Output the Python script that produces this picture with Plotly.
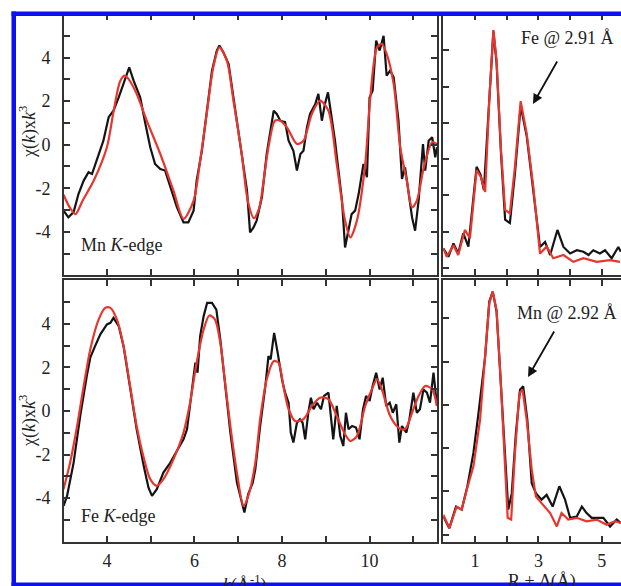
import plotly.graph_objects as go

# ---------------- data ----------------
# Mn K-edge EXAFS (top-left)
mn_k_data = [3.01,3.12,3.24,3.35,3.47,3.58,3.66,3.77,3.92,4.04,
             4.15,4.27,4.38,4.46,4.51,4.61,4.76,4.88,4.99,5.10,
             5.22,5.33,5.45,5.60,5.75,5.86,5.98,6.05,6.17,6.28,
             6.40,6.51,6.57,6.66,6.78,6.89,7.04,7.20,7.27,7.35,
             7.42,7.54,7.65,7.73,7.81,7.88,7.96,8.07,8.15,8.26,
             8.34,8.42,8.49,8.57,8.64,8.76,8.83,8.91,8.98,9.05,
             9.14,9.21,9.29,9.37,9.44,9.52,9.59,9.67,9.75,9.86,
             9.94,10.00,10.07,10.15,10.23,10.32,10.39,10.47,10.55,10.66,
             10.74,10.81,10.89,10.97,11.04,11.12,11.22,11.27,11.35,11.43,
             11.50,11.54]
mn_chi_data = [-3.03,-3.34,-3.10,-2.27,-1.65,-1.27,-1.35,-0.74,0.18,1.26,
               1.56,2.17,2.79,3.25,3.55,2.94,2.17,0.95,-0.12,-0.89,
               -1.12,-1.19,-1.96,-2.88,-3.57,-3.57,-3.03,-1.65,-0.28,1.41,
               3.40,4.32,4.55,4.24,3.70,2.17,0.03,-2.11,-4.03,-3.80,
               -3.49,-2.42,-0.43,0.64,1.56,1.41,1.10,1.03,0.18,-0.28,
               -1.19,-0.43,-0.28,0.80,1.41,1.87,2.33,1.10,1.87,2.40,
               1.26,0.18,-1.19,-2.57,-4.72,-3.80,-3.19,-3.03,-2.27,-0.89,
               -1.50,2.17,2.48,4.78,4.32,5.00,3.17,3.40,3.09,1.10,
               -1.58,-1.04,-2.11,-3.34,-3.95,-2.57,0.03,-1.19,0.18,0.34,
               -0.58,-0.12]
mn_k_fit = [3.01,3.15,3.28,3.45,3.70,4.00,4.15,4.30,4.40,4.50,
            4.68,4.91,5.22,5.52,5.75,5.98,6.13,6.28,6.43,6.57,
            6.74,6.89,7.08,7.22,7.36,7.48,7.58,7.69,7.84,7.96,
            8.11,8.34,8.49,8.68,8.87,9.06,9.25,9.44,9.56,9.71,
            9.90,10.01,10.17,10.28,10.39,10.55,10.70,10.85,10.97,11.08,
            11.24,11.43,11.54]
mn_chi_fit = [-2.30,-2.88,-3.19,-2.55,-1.65,-0.12,1.50,2.90,3.17,3.00,
              2.33,1.10,-0.43,-2.11,-3.41,-2.57,-0.74,1.41,3.55,4.47,
              3.86,2.02,-0.43,-2.60,-3.38,-2.90,-1.65,-0.12,1.10,1.10,
              0.80,0.03,0.18,1.41,2.02,1.56,-0.89,-3.49,-4.26,-3.49,
              -0.89,2.02,4.47,4.62,4.17,2.79,-0.12,-1.65,-2.88,-2.57,
              -1.04,0.11,0.03]

# Fe K-edge EXAFS (bottom-left)
fe_k_data = [3.01,3.09,3.24,3.39,3.54,3.62,3.73,3.85,4.00,4.08,
             4.15,4.27,4.38,4.53,4.68,4.84,4.95,5.03,5.14,5.29,
             5.45,5.60,5.75,5.83,5.94,6.02,6.07,6.13,6.21,6.29,
             6.40,6.50,6.59,6.70,6.82,6.97,7.08,7.14,7.23,7.33,
             7.39,7.50,7.62,7.69,7.74,7.82,7.90,8.00,8.07,8.15,
             8.20,8.26,8.34,8.41,8.47,8.53,8.60,8.66,8.72,8.80,
             8.89,8.96,9.06,9.17,9.25,9.33,9.40,9.46,9.52,9.60,
             9.69,9.77,9.85,9.92,10.00,10.07,10.15,10.23,10.30,10.38,
             10.46,10.53,10.61,10.68,10.74,10.84,10.91,11.00,11.08,11.15,
             11.23,11.31,11.38,11.46,11.54]
fe_chi_data = [-4.36,-3.90,-2.37,-0.23,1.61,2.45,2.98,3.52,3.98,4.05,
               4.28,3.90,2.98,1.15,-0.84,-2.52,-3.52,-3.90,-3.59,-2.83,
               -2.37,-1.83,-1.30,-0.84,0.84,2.22,1.76,3.44,4.36,4.97,
               4.97,4.66,3.29,1.15,-0.99,-3.29,-4.20,-4.66,-3.80,-3.30,
               -2.68,-0.69,1.15,2.52,2.37,3.59,2.68,1.45,0.84,0.38,
               -0.99,-1.45,-0.54,-0.38,-0.54,-1.30,-0.08,0.61,0.08,0.38,
               0.08,0.69,0.84,-1.30,0.23,-1.15,-1.61,-0.08,-0.84,-0.69,
               -0.76,-1.30,0.08,0.69,0.46,1.15,1.76,0.99,1.53,0.23,
               0.38,-0.08,0.31,-1.45,-0.69,-0.99,-0.38,0.84,-0.08,0.08,
               0.99,0.84,0.38,1.76,0.23]
fe_k_fit = [3.01,3.16,3.32,3.47,3.62,3.81,3.96,4.08,4.23,4.38,
            4.53,4.68,4.84,4.99,5.14,5.29,5.52,5.75,5.90,6.05,
            6.21,6.34,6.47,6.59,6.70,6.82,6.97,7.12,7.23,7.39,
            7.50,7.65,7.81,7.92,8.03,8.15,8.30,8.49,8.68,8.87,
            9.06,9.25,9.44,9.56,9.71,9.90,10.05,10.17,10.28,10.47,
            10.66,10.81,10.97,11.12,11.27,11.43,11.54]
fe_chi_fit = [-3.59,-2.37,-0.69,1.15,2.83,4.20,4.74,4.74,4.20,2.98,
              1.15,-0.69,-2.14,-3.13,-3.44,-3.13,-2.22,-0.99,0.38,2.22,
              3.75,4.39,4.20,3.13,1.30,-0.69,-2.83,-4.36,-3.90,-2.37,
              -0.38,1.45,2.29,2.22,1.15,0.08,-0.46,-0.38,0.23,0.61,
              0.54,-0.23,-1.07,-1.38,-1.15,0.23,0.99,1.45,0.99,-0.23,
              -0.76,-0.84,-0.08,0.69,1.15,0.99,0.23]

# Fourier transforms (right panels)
mn_r_data = [0.0,0.16,0.32,0.47,0.63,0.79,1.05,1.18,1.28,1.45,
             1.58,1.68,1.82,1.95,2.10,2.26,2.44,2.63,2.84,3.05,
             3.21,3.37,3.60,3.79,4.00,4.21,4.42,4.58,4.73,4.94,
             5.10,5.31,5.52,5.60]
mn_ft_data = [0.54,0.31,0.68,0.40,0.96,0.59,2.79,2.56,2.15,4.63,
              6.52,5.65,3.16,1.33,1.24,2.61,4.47,3.64,2.17,0.58,
              0.72,0.36,1.05,0.58,0.40,0.49,0.45,0.36,0.49,0.40,
              0.49,0.27,0.58,0.45]
mn_r_fit = [0.0,0.11,0.32,0.47,0.68,0.84,1.05,1.18,1.32,1.45,
            1.58,1.68,1.82,1.95,2.10,2.26,2.44,2.63,2.84,3.05,
            3.26,3.47,3.79,4.10,4.42,4.84,5.26,5.57]
mn_ft_fit = [0.54,0.31,0.63,0.36,1.05,0.82,2.70,2.52,2.10,4.63,
             6.56,5.73,3.25,1.60,1.51,2.79,4.60,3.71,2.24,0.40,
             0.59,0.27,0.36,0.17,0.27,0.17,0.22,0.17]

fe_r_data = [0.0,0.19,0.40,0.58,0.76,0.95,1.11,1.32,1.45,1.56,
             1.68,1.81,1.95,2.05,2.16,2.29,2.42,2.52,2.65,2.79,
             2.92,3.10,3.26,3.45,3.66,3.84,4.00,4.21,4.37,4.52,
             4.68,4.84,5.05,5.26,5.47,5.60]
fe_ft_data = [0.42,0.15,0.65,0.58,1.12,1.89,2.81,4.12,5.39,5.62,
              5.16,3.50,1.58,0.58,0.96,2.35,3.35,3.43,2.66,1.19,
              0.96,0.81,0.92,0.65,1.12,0.81,0.39,0.42,0.65,0.50,
              0.39,0.39,0.39,0.19,0.35,0.27]
fe_r_fit = [0.0,0.19,0.42,0.58,0.74,0.95,1.16,1.32,1.45,1.56,
            1.68,1.81,1.95,2.03,2.14,2.26,2.40,2.50,2.63,2.79,
            2.92,3.10,3.37,3.58,3.73,3.94,4.21,4.52,4.84,5.15,
            5.42,5.60]
fe_ft_fit = [0.46,0.15,0.65,0.58,1.04,1.58,2.66,4.04,5.35,5.62,
             5.20,3.58,1.42,0.39,0.35,1.89,3.27,3.35,2.66,1.50,
             0.88,0.73,0.50,0.19,0.50,0.35,0.39,0.31,0.35,0.23,
             0.31,0.27]

k_ticks = [4, 5, 6, 7, 8, 9, 10, 11]
k_labels = ["4", "", "6", "", "8", "", "10", ""]
chi_ticks = [-5, -4, -3, -2, -1, 0, 1, 2, 3, 4, 5]
chi_labels = ["", "-4", "", "-2", "", "0", "", "2", "", "4", ""]
r_ticks = [1, 2, 3, 4, 5]
r_labels = ["1", "", "3", "", "5"]

# ---------------- figure ----------------
W, H = 621, 586
def fx(p):
    return p / W
def fy(p):
    return 1 - p / H

BLACK = "#141414"
RED = "#e8352e"
AX = "#333333"
FONT = "Liberation Serif"
FS = 18

fig = go.Figure()

def add(x, y, color, xa, ya, spline=False):
    fig.add_trace(go.Scatter(
        x=x, y=y, mode="lines", xaxis=xa, yaxis=ya,
        line=dict(color=color, width=2.2,
                  shape="spline" if spline else "linear", smoothing=0.8),
        hoverinfo="skip", showlegend=False))

add(mn_k_data, mn_chi_data, BLACK, "x", "y")
add(mn_k_fit, mn_chi_fit, RED, "x", "y", spline=True)
add(mn_r_data, mn_ft_data, BLACK, "x2", "y2")
add(mn_r_fit, mn_ft_fit, RED, "x2", "y2")
add(fe_k_data, fe_chi_data, BLACK, "x3", "y3")
add(fe_k_fit, fe_chi_fit, RED, "x3", "y3", spline=True)
add(fe_r_data, fe_ft_data, BLACK, "x4", "y4")
add(fe_r_fit, fe_ft_fit, RED, "x4", "y4")

common = dict(showline=True, linecolor=AX, linewidth=1.8, ticks="inside",
              ticklen=6, tickwidth=1.5, tickcolor=AX, showgrid=False,
              zeroline=False, tickfont=dict(family=FONT, size=FS, color="#222"))

left_dom = [fx(64), fx(437)]
right_dom = [fx(443.3), 1.0]
top_dom = [fy(275.3), fy(14)]
bot_dom = [fy(541.6), fy(280.4)]

fig.update_layout(
    width=W, height=H,
    margin=dict(l=0, r=0, t=0, b=0),
    paper_bgcolor="white", plot_bgcolor="white",
    showlegend=False,
    xaxis=dict(common, domain=left_dom, range=[3.02, 11.54], tickmode="array",
               tickvals=k_ticks, ticktext=k_labels, showticklabels=False,
               mirror="allticks", anchor="y"),
    yaxis=dict(common, domain=top_dom, range=[-6, 6], tickmode="array",
               tickvals=chi_ticks, ticktext=chi_labels, mirror="allticks",
               anchor="x", ticklabelstandoff=8),
    xaxis2=dict(common, domain=right_dom, range=[0, 5.605], tickmode="array",
                tickvals=r_ticks, ticktext=r_labels, showticklabels=False,
                mirror="allticks", anchor="y2"),
    yaxis2=dict(common, domain=top_dom, range=[-0.2, 7.0], dtick=1,
                showticklabels=False, mirror=False, anchor="x2"),
    xaxis3=dict(common, domain=left_dom, range=[3.02, 11.54], tickmode="array",
                tickvals=k_ticks, ticktext=k_labels, mirror="allticks",
                anchor="y3", ticklabelstandoff=2),
    yaxis3=dict(common, domain=bot_dom, range=[-6, 6], tickmode="array",
                tickvals=chi_ticks, ticktext=chi_labels, mirror="allticks",
                anchor="x3", ticklabelstandoff=8),
    xaxis4=dict(common, domain=right_dom, range=[0, 5.605], tickmode="array",
                tickvals=r_ticks, ticktext=r_labels, mirror="allticks",
                anchor="y4", ticklabelstandoff=2),
    yaxis4=dict(common, domain=bot_dom, range=[-0.16, 5.88], dtick=1,
                showticklabels=False, mirror=False, anchor="x4"),
)

tf = dict(family=FONT, size=FS, color="#222")
ann = []
ann.append(dict(text="χ(<i>k</i>)x<i>k</i><sup>3</sup>", x=fx(28), y=fy(132),
                xref="paper", yref="paper", showarrow=False, textangle=-90,
                font=tf, xanchor="center", yanchor="middle"))
ann.append(dict(text="χ(<i>k</i>)x<i>k</i><sup>3</sup>", x=fx(28), y=fy(421),
                xref="paper", yref="paper", showarrow=False, textangle=-90,
                font=tf, xanchor="center", yanchor="middle"))
ann.append(dict(text="<i>k</i>(Å<sup>-1</sup>)", x=fx(245), y=fy(570),
                xref="paper", yref="paper", showarrow=False, font=tf,
                xanchor="center", yanchor="top"))
ann.append(dict(text="R + Δ(Å)", x=fx(542), y=fy(569),
                xref="paper", yref="paper", showarrow=False, font=tf,
                xanchor="center", yanchor="top"))
ann.append(dict(text="Mn <i>K</i>-edge", x=fx(79), y=fy(245),
                xref="paper", yref="paper", showarrow=False, font=tf,
                xanchor="left", yanchor="middle"))
ann.append(dict(text="Fe <i>K</i>-edge", x=fx(79), y=fy(516),
                xref="paper", yref="paper", showarrow=False, font=tf,
                xanchor="left", yanchor="middle"))
ann.append(dict(text="Fe @ 2.91 Å", x=fx(519), y=fy(38),
                xref="paper", yref="paper", showarrow=False, font=tf,
                xanchor="left", yanchor="middle"))
ann.append(dict(text="Mn @ 2.92 Å", x=fx(515), y=fy(313),
                xref="paper", yref="paper", showarrow=False, font=tf,
                xanchor="left", yanchor="middle"))
ann.append(dict(text="", x=fx(533), y=fy(104), xref="paper", yref="paper",
                showarrow=True, ax=25, ay=-44, arrowhead=2, arrowsize=1.1,
                arrowwidth=1.8, arrowcolor="#111"))
ann.append(dict(text="", x=fx(528), y=fy(377), xref="paper", yref="paper",
                showarrow=True, ax=27, ay=-47, arrowhead=2, arrowsize=1.1,
                arrowwidth=1.8, arrowcolor="#111"))
fig.update_layout(annotations=ann)

BLUE = "#0c10f2"
shapes = [
    dict(type="rect", xref="paper", yref="paper", x0=fx(11.5), x1=fx(16),
         y0=fy(586), y1=fy(11.5), fillcolor=BLUE, line=dict(width=0), layer="above"),
    dict(type="rect", xref="paper", yref="paper", x0=fx(11.5), x1=fx(621),
         y0=fy(16), y1=fy(11.5), fillcolor=BLUE, line=dict(width=0), layer="above"),
    dict(type="rect", xref="paper", yref="paper", x0=fx(11.5), x1=fx(621),
         y0=fy(586), y1=fy(582.5), fillcolor=BLUE, line=dict(width=0), layer="above"),
]
fig.update_layout(shapes=shapes)

fig.write_html("out.html", config={"displayModeBar": False},
               default_width="621px", default_height="586px",
               post_script="document.body.style.margin='0px';"
                           "document.body.style.overflow='hidden';"
                           "document.documentElement.style.overflow='hidden';")
